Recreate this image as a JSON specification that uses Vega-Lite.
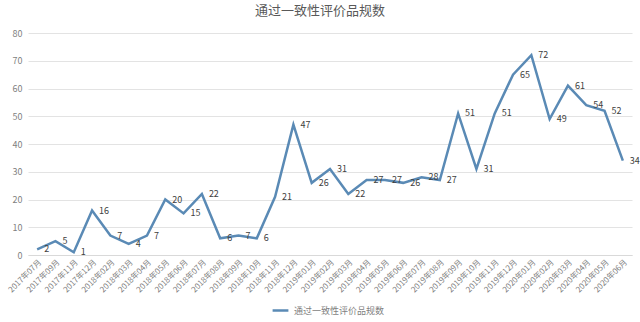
{
  "$schema": "https://vega.github.io/schema/vega-lite/v6.json",
  "width": 604,
  "height": 222,
  "autosize": "none",
  "padding": {"left": 28, "top": 33, "right": 8, "bottom": 67},
  "background": "white",
  "config": {
    "font": "Noto Sans CJK SC",
    "view": {"stroke": null}
  },
  "title": {
    "text": "通过一致性评价品规数",
    "fontSize": 13,
    "fontWeight": "normal",
    "color": "#595959",
    "offset": 11,
    "dx": -10
  },
  "data": {
    "values": [
      {"month": "2017年07月", "value": 2, "series": "通过一致性评价品规数"},
      {"month": "2017年09月", "value": 5, "series": "通过一致性评价品规数"},
      {"month": "2017年11月", "value": 1, "series": "通过一致性评价品规数"},
      {"month": "2017年12月", "value": 16, "series": "通过一致性评价品规数"},
      {"month": "2018年02月", "value": 7, "series": "通过一致性评价品规数"},
      {"month": "2018年03月", "value": 4, "series": "通过一致性评价品规数"},
      {"month": "2018年04月", "value": 7, "series": "通过一致性评价品规数"},
      {"month": "2018年05月", "value": 20, "series": "通过一致性评价品规数"},
      {"month": "2018年06月", "value": 15, "series": "通过一致性评价品规数"},
      {"month": "2018年07月", "value": 22, "series": "通过一致性评价品规数"},
      {"month": "2018年08月", "value": 6, "series": "通过一致性评价品规数"},
      {"month": "2018年09月", "value": 7, "series": "通过一致性评价品规数"},
      {"month": "2018年10月", "value": 6, "series": "通过一致性评价品规数"},
      {"month": "2018年11月", "value": 21, "series": "通过一致性评价品规数"},
      {"month": "2018年12月", "value": 47, "series": "通过一致性评价品规数"},
      {"month": "2019年01月", "value": 26, "series": "通过一致性评价品规数"},
      {"month": "2019年02月", "value": 31, "series": "通过一致性评价品规数"},
      {"month": "2019年03月", "value": 22, "series": "通过一致性评价品规数"},
      {"month": "2019年04月", "value": 27, "series": "通过一致性评价品规数"},
      {"month": "2019年05月", "value": 27, "series": "通过一致性评价品规数"},
      {"month": "2019年06月", "value": 26, "series": "通过一致性评价品规数"},
      {"month": "2019年07月", "value": 28, "series": "通过一致性评价品规数"},
      {"month": "2019年08月", "value": 27, "series": "通过一致性评价品规数"},
      {"month": "2019年09月", "value": 51, "series": "通过一致性评价品规数"},
      {"month": "2019年10月", "value": 31, "series": "通过一致性评价品规数"},
      {"month": "2019年11月", "value": 51, "series": "通过一致性评价品规数"},
      {"month": "2019年12月", "value": 65, "series": "通过一致性评价品规数"},
      {"month": "2020年01月", "value": 72, "series": "通过一致性评价品规数"},
      {"month": "2020年02月", "value": 49, "series": "通过一致性评价品规数"},
      {"month": "2020年03月", "value": 61, "series": "通过一致性评价品规数"},
      {"month": "2020年04月", "value": 54, "series": "通过一致性评价品规数"},
      {"month": "2020年05月", "value": 52, "series": "通过一致性评价品规数"},
      {"month": "2020年06月", "value": 34, "series": "通过一致性评价品规数"}
    ]
  },
  "encoding": {
    "x": {
      "field": "month",
      "type": "ordinal",
      "sort": null,
      "scale": {"type": "point", "padding": 0.5},
      "axis": {
        "title": null,
        "labelAngle": -45,
        "labelFontSize": 8,
        "labelColor": "#7f7f7f",
        "labelPadding": 3,
        "ticks": false,
        "domainColor": "#d9d9d9",
        "grid": false
      }
    },
    "y": {
      "field": "value",
      "type": "quantitative",
      "scale": {"domain": [0, 80]},
      "axis": {
        "title": null,
        "values": [0, 10, 20, 30, 40, 50, 60, 70, 80],
        "labelFontSize": 9,
        "labelColor": "#7f7f7f",
        "labelPadding": 6,
        "ticks": false,
        "domain": false,
        "gridColor": "#e3e3e3"
      }
    }
  },
  "layer": [
    {
      "mark": {"type": "line", "strokeWidth": 2.5},
      "encoding": {
        "color": {
          "field": "series",
          "type": "nominal",
          "scale": {"range": ["#5a8ab5"]},
          "legend": {
            "title": null,
            "orient": "none",
            "legendX": 243,
            "legendY": 268,
            "direction": "horizontal",
            "symbolType": "stroke",
            "symbolStrokeWidth": 2.5,
            "symbolSize": 250,
            "labelFontSize": 9,
            "labelColor": "#7f7f7f"
          }
        }
      }
    },
    {
      "mark": {"type": "text", "align": "left", "baseline": "middle", "dx": 7, "fontSize": 9, "color": "#404040"},
      "encoding": {
        "text": {"field": "value", "type": "quantitative"}
      }
    }
  ]
}
